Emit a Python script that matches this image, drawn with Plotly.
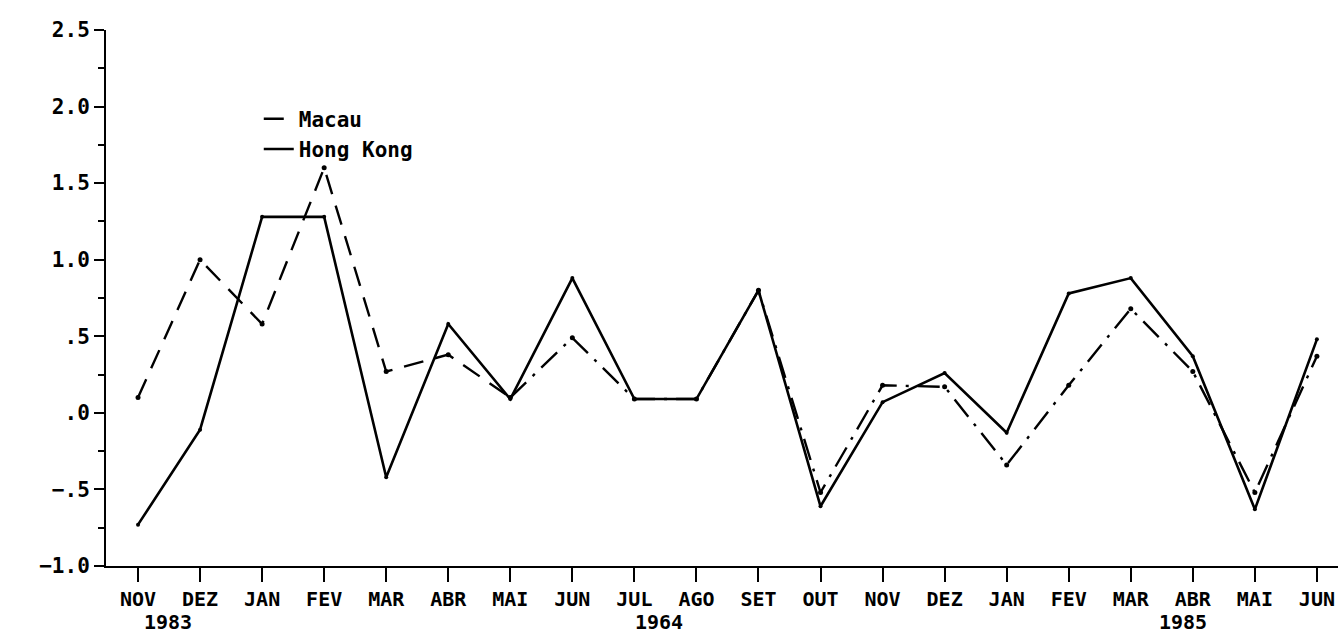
import plotly.graph_objects as go

months = ["NOV", "DEZ", "JAN", "FEV", "MAR", "ABR", "MAI", "JUN", "JUL", "AGO",
          "SET", "OUT", "NOV", "DEZ", "JAN", "FEV", "MAR", "ABR", "MAI", "JUN"]
x_idx = list(range(len(months)))

macau = [0.10, 1.00, 0.58, 1.60, 0.27, 0.38, 0.10, 0.49, 0.09, 0.09,
         0.80, -0.52, 0.18, 0.17, -0.34, 0.18, 0.68, 0.27, -0.52, 0.37]
hong_kong = [-0.73, -0.11, 1.28, 1.28, -0.42, 0.58, 0.09, 0.88, 0.09, 0.09,
             0.80, -0.61, 0.07, 0.26, -0.13, 0.78, 0.88, 0.37, -0.63, 0.48]

years = ["1983", "1964", "1985"]
year_pos = [0.48, 8.4, 16.84]

y_tickvals = [2.5, 2.0, 1.5, 1.0, 0.5, 0.0, -0.5, -1.0]
y_ticktext = ["2.5", "2.0", "1.5", "1.0", ".5", ".0", "\u2212.5", "\u22121.0"]

FONT = "DejaVu Sans Mono"
split = 6  # style change of the Macau pen (dashed -> dash-dot)

fig = go.Figure()
fig.add_trace(go.Scatter(
    x=x_idx[:split + 1], y=macau[:split + 1], name="Macau", mode="lines",
    line=dict(color="black", width=2.4, dash="20px,12px"), showlegend=True))
fig.add_trace(go.Scatter(
    x=x_idx[split:], y=macau[split:], name="Macau", mode="lines",
    line=dict(color="black", width=2.4, dash="22px,9px,3px,9px"),
    showlegend=False))
fig.add_trace(go.Scatter(
    x=x_idx, y=hong_kong, name="Hong Kong", mode="lines",
    line=dict(color="black", width=2.6), showlegend=True))
fig.add_trace(go.Scatter(
    x=x_idx, y=macau, mode="markers", marker=dict(size=5, color="black"),
    showlegend=False, hoverinfo="skip"))
fig.add_trace(go.Scatter(
    x=x_idx, y=hong_kong, mode="markers", marker=dict(size=4, color="black"),
    showlegend=False, hoverinfo="skip"))

for yr, xp in zip(years, year_pos):
    fig.add_annotation(x=xp, y=-0.104, xref="x", yref="paper", text=yr,
                       showarrow=False, yanchor="middle",
                       font=dict(family=FONT, size=20, color="black", weight="bold"))

fig.update_layout(
    width=1338, height=636, autosize=False,
    margin=dict(l=106, r=0, t=30, b=70),
    paper_bgcolor="white", plot_bgcolor="white",
    font=dict(family=FONT, color="black"),
    legend=dict(x=0.124, y=0.872, xanchor="left", yanchor="top",
                bgcolor="rgba(0,0,0,0)", borderwidth=0, tracegroupgap=0,
                font=dict(family=FONT, size=21, color="black", weight="bold")),
    xaxis=dict(range=[-0.516, 19.34], tickvals=x_idx, ticktext=months,
               showgrid=False, zeroline=False, showline=True, linecolor="black",
               linewidth=2, ticks="outside", ticklen=14, tickwidth=2,
               tickcolor="black",
               tickfont=dict(family=FONT, size=20, color="black", weight="bold")),
    yaxis=dict(range=[-1.0, 2.5], tickvals=y_tickvals, ticktext=y_ticktext,
               showgrid=False, zeroline=False, showline=True, linecolor="black",
               linewidth=2, ticks="outside", ticklen=10, tickwidth=2,
               tickcolor="black",
               minor=dict(dtick=0.25, ticks="outside", ticklen=6, tickwidth=2,
                          tickcolor="black", showgrid=False),
               tickfont=dict(family=FONT, size=21, color="black", weight="bold")),
)

fig.write_html(
    "out.html",
    config={"displayModeBar": False},
    post_script="document.body.style.margin='0';document.body.style.overflow='hidden';",
)
